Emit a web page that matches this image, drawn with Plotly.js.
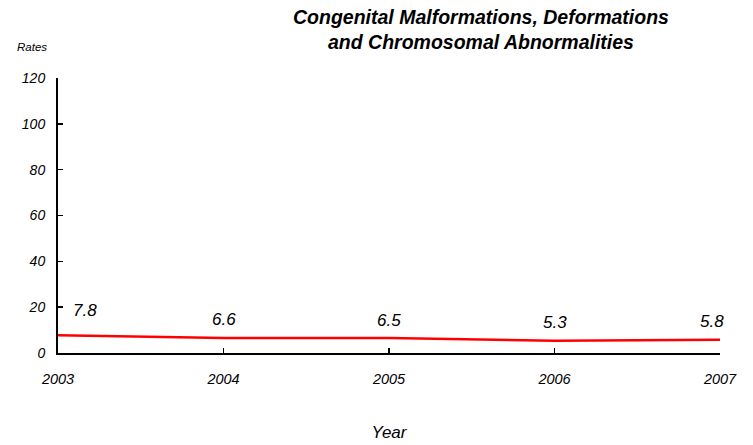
<!DOCTYPE html>
<html><head><meta charset="utf-8">
<script src="https://cdn.plot.ly/plotly-3.0.1.min.js"></script>
<style>body{margin:0;padding:0;background:#fff}#chart{width:753px;height:445px}</style>
</head><body><div id="chart"></div>
<script>
const years = [2003, 2004, 2005, 2006, 2007];
const rates = [7.8, 6.6, 6.5, 5.3, 5.8];
const labels = ['7.8', '6.6', '6.5', '5.3', '5.8'];
const yTicks = [0, 20, 40, 60, 80, 100, 120];

const font = 'Liberation Sans, Arial, sans-serif';
const trace = {
  x: years, y: rates, type: 'scatter', mode: 'lines',
  line: {color: '#ff0000', width: 2.5}, hoverinfo: 'skip'
};
const ann = years.map((yr, i) => ({
  x: yr, y: rates[i], xref: 'x', yref: 'y', text: labels[i], showarrow: false,
  font: {family: font, size: 17, color: '#000', style: 'italic'},
  xshift: i === 0 ? 27 : (i === years.length - 1 ? -8 : 0),
  yshift: i === 0 ? 25 : 18
}));
ann.push({xref: 'paper', yref: 'paper', x: -0.039, y: 1.114, xanchor: 'center', yanchor: 'middle',
  text: '<i>Rates</i>', showarrow: false, font: {family: font, size: 11.5, color: '#000'}});
ann.push({xref: 'paper', yref: 'paper', x: (481 - 58) / 662, y: 1 + (78 - 29.5) / 275, xanchor: 'center', yanchor: 'middle',
  text: '<b><i>Congenital Malformations, Deformations<br>and Chromosomal Abnormalities</i></b>',
  showarrow: false, font: {family: font, size: 19.5, color: '#000'}});

const layout = {
  width: 753, height: 445,
  margin: {l: 58, r: 33, t: 78, b: 92},
  paper_bgcolor: '#fff', plot_bgcolor: '#fff',
  showlegend: false,
  xaxis: {range: [2003, 2007], tickvals: years, ticktext: years.map(String),
    ticks: 'inside', ticklen: 5, tickwidth: 1.5, tickcolor: '#000',
    showline: true, linecolor: '#000', linewidth: 2, showgrid: false, zeroline: false,
    tickfont: {family: font, size: 14.5, color: '#000', style: 'italic'},
    ticklabelstandoff: 12,
    title: {text: 'Year', standoff: 40, font: {family: font, size: 17, color: '#000', style: 'italic'}},
    fixedrange: true},
  yaxis: {range: [0, 120], tickvals: yTicks,
    ticks: 'inside', ticklen: 5, tickwidth: 1.5, tickcolor: '#000',
    showline: true, linecolor: '#000', linewidth: 2, showgrid: false, zeroline: false,
    tickfont: {family: font, size: 14, color: '#000', style: 'italic'},
    ticklabelstandoff: 8, fixedrange: true},
  annotations: ann
};
Plotly.newPlot('chart', [trace], layout, {displayModeBar: false, staticPlot: true});
</script></body></html>
